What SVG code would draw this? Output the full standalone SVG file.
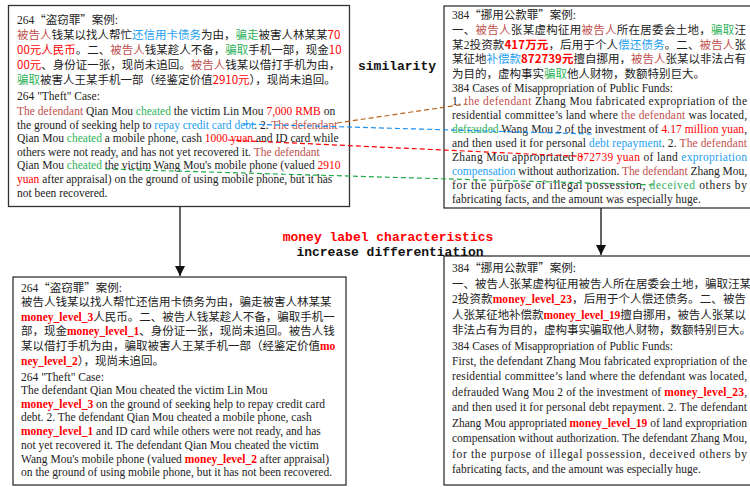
<svg xmlns="http://www.w3.org/2000/svg" width="750" height="487" viewBox="0 0 750 487">
<defs>
<style>
.box{fill:#fff;stroke:#333;stroke-width:1.3}
.t{font-family:"Liberation Serif","Noto Sans CJK SC",serif;font-size:11.5px;fill:#222}
.q{font-family:"Noto Sans CJK SC",sans-serif}
.d{fill:#c0504d}
.b{fill:#1ea0f0}
.g{fill:#2fb35a}
.r{fill:#ff0000}
.rs{fill:#ff0000;font-family:"Noto Sans CJK SC","Liberation Sans",sans-serif}
.mb{fill:#ff0000;font-weight:bold}
.lbl{font-family:"Liberation Mono",monospace;font-weight:bold;font-size:13px;text-anchor:middle}
.dash{fill:none;stroke-width:1.2;stroke-dasharray:5 3}
.arr{stroke:#111;stroke-width:1.3;fill:none}
</style>
<marker id="ah" viewBox="0 0 10 10" refX="10" refY="5" markerWidth="10" markerHeight="10" markerUnits="userSpaceOnUse" orient="auto">
<path d="M0,0 L10,5 L0,10 Z" fill="#111"/>
</marker>
</defs>

<g id="node-top-left">
<rect class="box" x="8.5" y="5.5" width="341" height="201"/>
<text class="t" x="17" y="24">264<tspan class="q">“</tspan>盗窃罪<tspan class="q">”</tspan>案例:</text>
<text class="t" x="17" y="39"><tspan class="d">被告人</tspan>钱某以找人帮忙<tspan class="b">还信用卡债务</tspan>为由，<tspan class="g">骗走</tspan>被害人林某某<tspan class="rs">70</tspan></text>
<text class="t" x="17" y="54"><tspan class="rs">00元人民币</tspan>。二、<tspan class="d">被告人</tspan>钱某趁人不备，<tspan class="g">骗取</tspan>手机一部，现金<tspan class="rs">10</tspan></text>
<text class="t" x="17" y="69"><tspan class="rs">00元</tspan>、身份证一张，现尚未追回。<tspan class="d">被告人</tspan>钱某以借打手机为由，</text>
<text class="t" x="17" y="84"><tspan class="g">骗取</tspan>被害人王某手机一部（经鉴定价值<tspan class="rs">2910元</tspan>），现尚未追回。</text>
<text class="t" x="17" y="100">264 "Theft" Case:</text>
<text class="t" x="17" y="115"><tspan class="d">The defendant</tspan> Qian Mou <tspan class="g">cheated</tspan> the victim Lin Mou <tspan class="r">7,000 RMB</tspan> on</text>
<text class="t" x="17" y="128.5">the ground of seeking help to <tspan class="b">repay credit card debt</tspan>. 2. <tspan class="d">The defendant</tspan></text>
<text class="t" x="17" y="142">Qian Mou <tspan class="g">cheated</tspan> a mobile phone, cash <tspan class="r">1000 yuan</tspan> and ID card while</text>
<text class="t" x="17" y="155.5">others were not ready, and has not yet recovered it. <tspan class="d">The defendant</tspan></text>
<text class="t" x="17" y="169">Qian Mou <tspan class="g">cheated</tspan> the victim Wang Mou's mobile phone (valued <tspan class="r">2910</tspan></text>
<text class="t" x="17" y="182.5"><tspan class="r">yuan</tspan> after appraisal) on the ground of using mobile phone, but it has</text>
<text class="t" x="17" y="196.5">not been recovered.</text>
</g>

<g id="node-top-right">
<rect class="box" x="444" y="6" width="310" height="202"/>
<text class="t" x="452" y="19">384<tspan class="q">“</tspan>挪用公款罪<tspan class="q">”</tspan>案例:</text>
<text class="t" x="452" y="34" textLength="294" lengthAdjust="spacing">一、<tspan class="d">被告人</tspan>张某虚构征用<tspan class="d">被告人</tspan>所在居委会土地，<tspan class="g">骗取</tspan>汪</text>
<text class="t" x="452" y="48.5" textLength="294" lengthAdjust="spacing">某2投资款<tspan class="rs" font-weight="bold">417万元</tspan>，后用于个人<tspan class="b">偿还债务</tspan>。二、<tspan class="d">被告人</tspan>张</text>
<text class="t" x="452" y="63" textLength="294" lengthAdjust="spacing">某征地<tspan class="b">补偿款</tspan><tspan class="rs" font-weight="bold">872739元</tspan>擅自挪用，<tspan class="d">被告人</tspan>张某以非法占有</text>
<text class="t" x="452" y="77.5">为目的，虚构事实<tspan class="g">骗取</tspan>他人财物，数额特别巨大。</text>
<text class="t" x="452" y="91.5">384 Cases of Misappropriation of Public Funds:</text>
<text class="t" x="452" y="105" textLength="295" lengthAdjust="spacing">1. <tspan class="d">the defendant</tspan> Zhang Mou fabricated expropriation of the</text>
<text class="t" x="452" y="119" textLength="295" lengthAdjust="spacing">residential committee’s land where <tspan class="d">the defendant</tspan> was located,</text>
<text class="t" x="452" y="133" textLength="295" lengthAdjust="spacing"><tspan class="g">defrauded</tspan> Wang Mou 2 of the investment of <tspan class="r">4.17 million yuan</tspan>,</text>
<text class="t" x="452" y="147" textLength="295" lengthAdjust="spacing">and then used it for personal <tspan class="b">debt repayment</tspan>. 2. <tspan class="d">The defendant</tspan></text>
<text class="t" x="452" y="161" textLength="295" lengthAdjust="spacing">Zhang Mou appropriated <tspan class="r">872739 yuan</tspan> of land <tspan class="b">expropriation</tspan></text>
<text class="t" x="452" y="175" textLength="295" lengthAdjust="spacing"><tspan class="b">compensation</tspan> without authorization. <tspan class="d">The defendant</tspan> Zhang Mou,</text>
<text class="t" x="452" y="189" textLength="295" lengthAdjust="spacing">for the purpose of illegal possession, <tspan class="g">deceived</tspan> others by</text>
<text class="t" x="452" y="203">fabricating facts, and the amount was especially huge.</text>
</g>

<g id="node-bottom-left">
<rect class="box" x="13" y="277" width="333" height="208"/>
<text class="t" x="21" y="292">264<tspan class="q">“</tspan>盗窃罪<tspan class="q">”</tspan>案例:</text>
<text class="t" x="21" y="306">被告人钱某以找人帮忙还信用卡债务为由，骗走被害人林某某</text>
<text class="t" x="21" y="320.5"><tspan class="mb">money_level_3</tspan>人民币。二、被告人钱某趁人不备，骗取手机一</text>
<text class="t" x="21" y="335">部，现金<tspan class="mb">money_level_1</tspan>、身份证一张，现尚未追回。被告人钱</text>
<text class="t" x="21" y="350">某以借打手机为由，骗取被害人王某手机一部（经鉴定价值<tspan class="mb">mo</tspan></text>
<text class="t" x="21" y="364.5"><tspan class="mb">ney_level_2</tspan>），现尚未追回。</text>
<text class="t" x="21" y="381">264 "Theft" Case:</text>
<text class="t" x="21" y="394">The defendant Qian Mou cheated the victim Lin Mou</text>
<text class="t" x="21" y="407.5"><tspan class="mb">money_level_3</tspan> on the ground of seeking help to repay credit card</text>
<text class="t" x="21" y="421">debt. 2. The defendant Qian Mou cheated a mobile phone, cash</text>
<text class="t" x="21" y="435"><tspan class="mb">money_level_1</tspan> and ID card while others were not ready, and has</text>
<text class="t" x="21" y="449">not yet recovered it. The defendant Qian Mou cheated the victim</text>
<text class="t" x="21" y="462.5">Wang Mou's mobile phone (valued <tspan class="mb">money_level_2</tspan> after appraisal)</text>
<text class="t" x="21" y="476">on the ground of using mobile phone, but it has not been recovered.</text>
</g>

<g id="node-bottom-right">
<rect class="box" x="444" y="256" width="310" height="229"/>
<text class="t" x="452" y="272">384<tspan class="q">“</tspan>挪用公款罪<tspan class="q">”</tspan>案例:</text>
<text class="t" x="452" y="287.5">一、被告人张某虚构征用被告人所在居委会土地，骗取汪某</text>
<text class="t" x="452" y="303" textLength="294" lengthAdjust="spacing">2投资款<tspan class="mb">money_level_23</tspan>，后用于个人偿还债务。二、被告</text>
<text class="t" x="452" y="318.5" textLength="294" lengthAdjust="spacing">人张某征地补偿款<tspan class="mb">money_level_19</tspan>擅自挪用，被告人张某以</text>
<text class="t" x="452" y="334">非法占有为目的，虚构事实骗取他人财物，数额特别巨大。</text>
<text class="t" x="452" y="349.5">384 Cases of Misappropriation of Public Funds:</text>
<text class="t" x="452" y="365" textLength="295" lengthAdjust="spacing">First, the defendant Zhang Mou fabricated expropriation of the</text>
<text class="t" x="452" y="380" textLength="295" lengthAdjust="spacing">residential committee’s land where the defendant was located,</text>
<text class="t" x="452" y="395.5" textLength="295" lengthAdjust="spacing">defrauded Wang Mou 2 of the investment of <tspan class="mb">money_level_23</tspan>,</text>
<text class="t" x="452" y="411" textLength="295" lengthAdjust="spacing">and then used it for personal debt repayment. 2. The defendant</text>
<text class="t" x="452" y="426.5" textLength="295" lengthAdjust="spacing">Zhang Mou appropriated <tspan class="mb">money_level_19</tspan> of land expropriation</text>
<text class="t" x="452" y="442" textLength="295" lengthAdjust="spacing">compensation without authorization. The defendant Zhang Mou,</text>
<text class="t" x="452" y="457.5" textLength="295" lengthAdjust="spacing">for the purpose of illegal possession, deceived others by</text>
<text class="t" x="452" y="473">fabricating facts, and the amount was especially huge.</text>
</g>

<g id="labels">
<text class="lbl" x="397" y="70" fill="#111">similarity</text>
<text class="lbl" x="388" y="241" fill="#ff0000">money label characteristics</text>
<text class="lbl" x="390" y="256" fill="#111">increase differentiation</text>
</g>

<g id="connectors">
<line class="dash" x1="337" y1="123" x2="466" y2="104" stroke="#b5651d"/>
<line class="dash" x1="243" y1="124" x2="592" y2="134" stroke="#1e90f0"/>
<line class="dash" x1="228" y1="140" x2="583" y2="156.5" stroke="#ff0000"/>
<line class="dash" x1="105" y1="169" x2="657" y2="185" stroke="#22aa4a"/>
<line class="arr" x1="180" y1="207" x2="180" y2="276" marker-end="url(#ah)"/>
<line class="arr" x1="601" y1="208" x2="601" y2="255" marker-end="url(#ah)"/>
</g>
</svg>
